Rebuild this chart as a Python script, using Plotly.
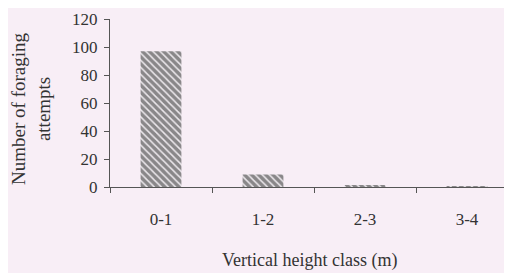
import plotly.graph_objects as go

categories = ["0-1", "1-2", "2-3", "3-4"]
attempts = [97, 9, 1, 0.5]
y_ticks = [0, 20, 40, 60, 80, 100, 120]

font = "Liberation Serif, Times New Roman, serif"
bg = "#f8eef6"
ink = "#333333"

fig = go.Figure(go.Bar(
    x=categories, y=attempts, width=0.4,
    marker=dict(color="#ffffff", line=dict(width=0),
                pattern=dict(shape="\\", fgcolor="#262626", bgcolor="#ece8ec",
                             size=5, solidity=0.7, fillmode="overlay")),
))

fig.update_layout(
    width=512, height=273,
    margin=dict(l=102, r=2, t=8, b=94),
    paper_bgcolor=bg, plot_bgcolor=bg,
    font=dict(family=font, size=17, color=ink),
    showlegend=False,
    bargap=0.6,
)
fig.update_xaxes(
    type="category", range=[-0.5, 3.5],
    showline=True, linecolor="#555555", linewidth=1.2,
    ticks="outside", tickson="boundaries", ticklen=5, tickcolor="#555555",
    ticklabelstandoff=16, showgrid=False, zeroline=False,
)
fig.update_yaxes(
    range=[0, 120], tickvals=y_ticks,
    showline=True, linecolor="#555555", linewidth=1.2,
    ticks="outside", ticklen=5, tickcolor="#555555",
    ticklabelstandoff=3, ticklabeloverflow="allow",
    showgrid=False, zeroline=False,
)
fig.add_annotation(
    text="Number of foraging<br>attempts", textangle=-90,
    xref="paper", yref="paper", x=-0.1936, y=0.465, xanchor="center", yanchor="middle",
    showarrow=False, font=dict(family=font, size=19, color=ink),
)
fig.add_annotation(
    text="Vertical height class (m)",
    xref="paper", yref="paper", x=0.49, y=-0.4386, xanchor="center", yanchor="middle",
    showarrow=False, font=dict(family=font, size=18, color=ink),
)
fig.write_html("out.html")
